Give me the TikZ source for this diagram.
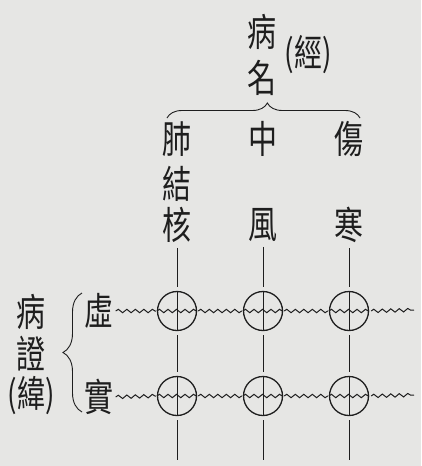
\documentclass[tikz,border=0pt]{standalone}
\usepackage{fontspec}
\newfontfamily\cjk{Noto Sans CJK TC}
\usetikzlibrary{decorations.pathmorphing,decorations.pathreplacing}
\definecolor{paper}{HTML}{E6E6E4}
\definecolor{ink}{HTML}{1E1E1E}
\newcommand\vch[1]{\scalebox{1}[1.32]{#1}}
\begin{document}
\begin{tikzpicture}[x=1pt,y=-1pt,
  ch/.style={font=\cjk\fontsize{29}{29}\selectfont, text=ink, inner sep=0pt},
  chs/.style={font=\cjk\fontsize{28}{28}\selectfont, text=ink, inner sep=0pt},
  vline/.style={draw=ink, line width=1pt},
  wave/.style={draw=ink, line width=1pt, decorate, decoration={snake, amplitude=1.7pt, segment length=8.5pt}},
  cell/.style={circle, draw=ink, line width=1.3pt, minimum size=39pt, inner sep=0pt},
  bracestyle/.style={draw=ink, line width=0.9pt, decorate}]
\fill[paper] (0,0) rectangle (421,466);
\useasboundingbox (0,0) rectangle (421,466);
% top heading
\node[ch] (t1) at (262,32) {\vch{病}};
\node[ch] (t2) at (262,78) {\vch{名}};
\node[chs] (tj) at (308,55) {\vch{(經)}};
\coordinate (bl) at (167,118);
\coordinate (br) at (360,118);
\draw[bracestyle, decoration={brace, amplitude=15pt, aspect=0.52}] (bl) -- (br);
% columns
\node[ch] (a1) at (177,139) {\vch{肺}};
\node[ch] (a2) at (177,184) {\vch{結}};
\node[ch] (a3) at (177,225) {\vch{核}};
\node[ch] (b1) at (263,139) {\vch{中}};
\node[ch] (b2) at (263,225) {\vch{風}};
\node[ch] (c1) at (349,139) {\vch{傷}};
\node[ch] (c2) at (349,225) {\vch{寒}};
% rows
\node[ch] (r1) at (99,311) {\vch{虛}};
\node[ch] (r2) at (99,397) {\vch{實}};
\node[ch] (l1) at (31,312) {\vch{病}};
\node[ch] (l2) at (31,354) {\vch{證}};
\node[chs] (l3) at (31,396) {\vch{(緯)}};
\coordinate (lb) at (82,412);
\coordinate (lt) at (82,293);
\draw[bracestyle, decoration={brace, amplitude=19pt}] (lb) -- (lt);
% cells
\foreach \n/\x in {1/177,2/263,3/349}{
  \node[cell] (p1\n) at (\x,311) {};
  \node[cell] (p2\n) at (\x,396) {};
  \coordinate (e\n) at (\x,460);
}
\foreach \n in {11,12,13,21,22,23}{
  \draw[vline] (p\n.north) -- (p\n.south);
  \draw[wave] (p\n.west) -- (p\n.east);
}
% vertical lines
\draw[vline, shorten <=5pt, shorten >=4pt] (a3) -- (p11);
\draw[vline, shorten <=5pt, shorten >=4pt] (b2) -- (p12);
\draw[vline, shorten <=5pt, shorten >=4pt] (c2) -- (p13);
\foreach \n in {1,2,3}{
  \draw[vline, shorten <=4pt, shorten >=4pt] (p1\n) -- (p2\n);
  \draw[vline, shorten <=4pt] (p2\n) -- (e\n);
}
% horizontal wavy lines
\coordinate (w1) at (414,310);
\coordinate (w2) at (414,395);
\draw[wave] ([xshift=2pt]r1.east) -- ([xshift=-1pt]p11.west);
\draw[wave] ([xshift=1pt]p11.east) -- ([xshift=-1pt]p12.west);
\draw[wave] ([xshift=1pt]p12.east) -- ([xshift=-1pt]p13.west);
\draw[wave] ([xshift=2pt]p13.east) -- (w1);
\draw[wave] ([xshift=2pt]r2.east) -- ([xshift=-1pt]p21.west);
\draw[wave] ([xshift=1pt]p21.east) -- ([xshift=-1pt]p22.west);
\draw[wave] ([xshift=1pt]p22.east) -- ([xshift=-1pt]p23.west);
\draw[wave] ([xshift=2pt]p23.east) -- (w2);
\end{tikzpicture}
\end{document}
